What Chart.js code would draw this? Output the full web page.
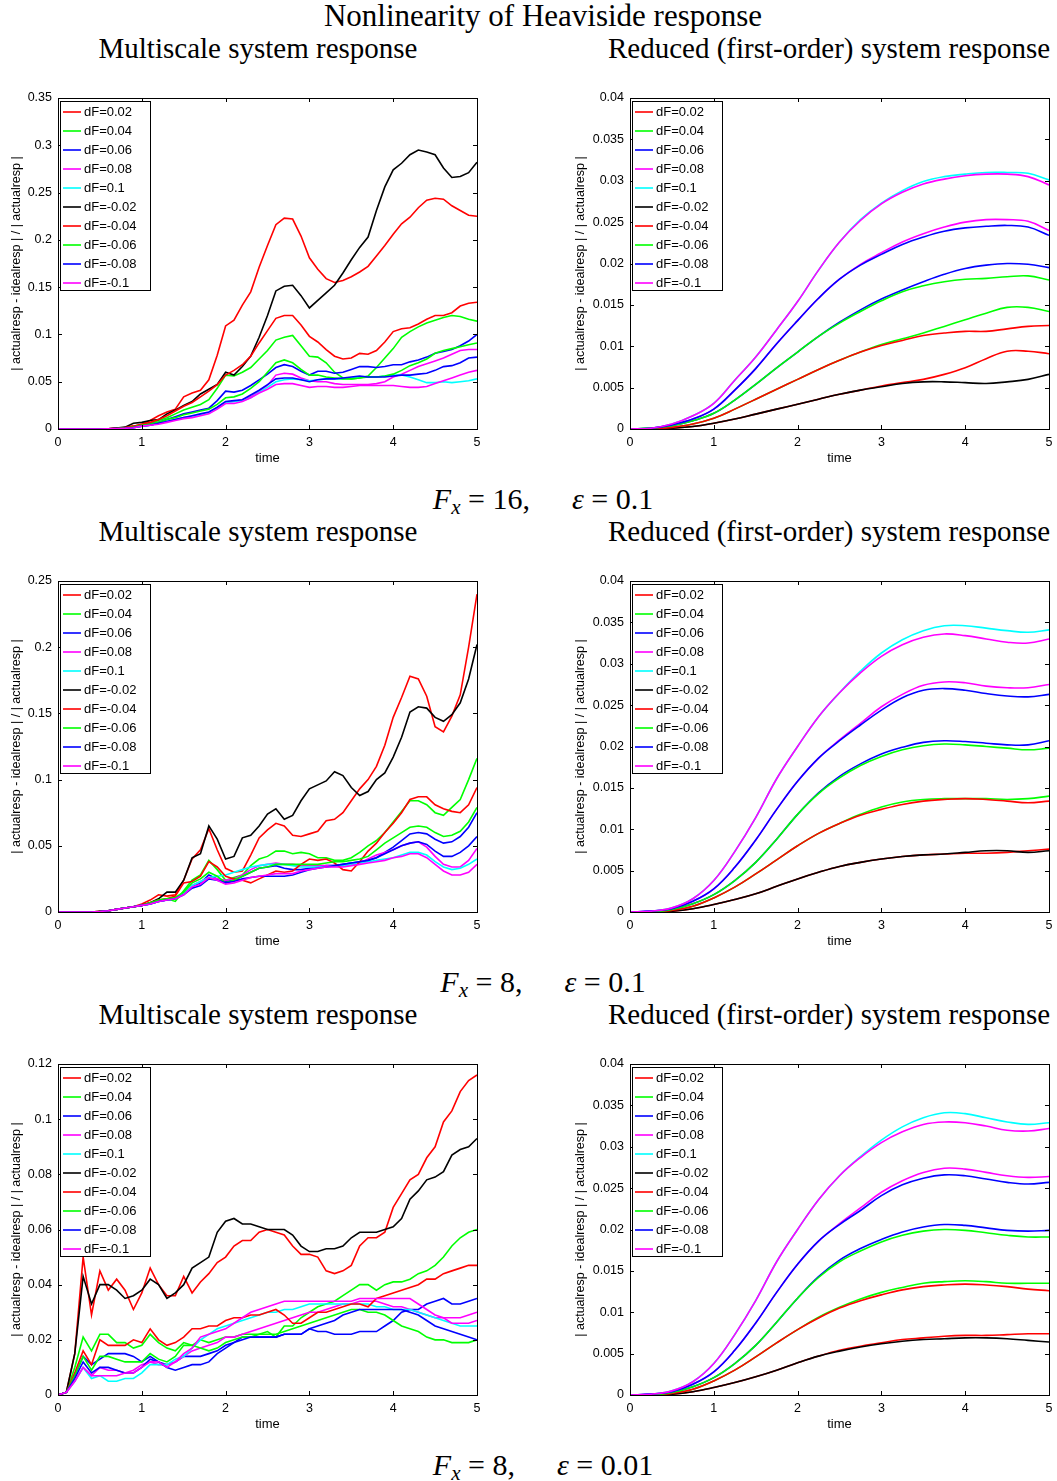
<!DOCTYPE html>
<html>
<head>
<meta charset="utf-8">
<script src="https://cdn.jsdelivr.net/npm/chart.js@4.4.0/dist/chart.umd.min.js"></script>
<style>
  html, body { margin: 0; padding: 0; background: #fff; }
  body { position: relative; width: 1057px; height: 1481px; overflow: hidden; }
  .txt { position: absolute; font-family: "Liberation Serif", "Times New Roman", serif; color: #000;
         white-space: nowrap; line-height: 1; transform: translateX(-50%); }
  .txt sub { font-size: 70%; vertical-align: -0.25em; font-style: italic; }
  .gap { display: inline-block; width: 42px; }
  canvas { position: absolute; }
</style>
</head>
<body>

<div class="txt" style="left:543px; top:0px; font-size:31px;">Nonlinearity of Heaviside response</div>

<div class="txt" style="left:258px; top:34px; font-size:29px;">Multiscale system response</div>
<div class="txt" style="left:829px; top:34px; font-size:29px;">Reduced (first-order) system response</div>
<canvas id="c1" width="490" height="385" style="left:0px; top:90px;"></canvas>
<canvas id="c2" width="487" height="385" style="left:570px; top:90px;"></canvas>
<div class="txt" style="left:543px; top:484px; font-size:30px;"><i>F</i><sub>x</sub> = 16,<span class="gap"></span><i>ε</i> = 0.1</div>

<div class="txt" style="left:258px; top:517px; font-size:29px;">Multiscale system response</div>
<div class="txt" style="left:829px; top:517px; font-size:29px;">Reduced (first-order) system response</div>
<canvas id="c3" width="490" height="385" style="left:0px; top:573px;"></canvas>
<canvas id="c4" width="487" height="385" style="left:570px; top:573px;"></canvas>
<div class="txt" style="left:543px; top:967px; font-size:30px;"><i>F</i><sub>x</sub> = 8,<span class="gap"></span><i>ε</i> = 0.1</div>

<div class="txt" style="left:258px; top:1000px; font-size:29px;">Multiscale system response</div>
<div class="txt" style="left:829px; top:1000px; font-size:29px;">Reduced (first-order) system response</div>
<canvas id="c5" width="490" height="385" style="left:0px; top:1056px;"></canvas>
<canvas id="c6" width="487" height="385" style="left:570px; top:1056px;"></canvas>
<div class="txt" style="left:543px; top:1450px; font-size:30px;"><i>F</i><sub>x</sub> = 8,<span class="gap"></span><i>ε</i> = 0.01</div>

<script>
// time samples
const T10 = [0,0.1,0.2,0.3,0.4,0.5,0.6,0.7,0.8,0.9,1,1.1,1.2,1.3,1.4,1.5,1.6,1.7,1.8,1.9,
  2,2.1,2.2,2.3,2.4,2.5,2.6,2.7,2.8,2.9,3,3.1,3.2,3.3,3.4,3.5,3.6,3.7,3.8,3.9,
  4,4.1,4.2,4.3,4.4,4.5,4.6,4.7,4.8,4.9,5];
const T25 = [0,0.25,0.5,0.75,1,1.25,1.5,1.75,2,2.25,2.5,2.75,3,3.25,3.5,3.75,4,4.25,4.5,4.75,5];

const LABELS = ['dF=0.02','dF=0.04','dF=0.06','dF=0.08','dF=0.1','dF=-0.02','dF=-0.04','dF=-0.06','dF=-0.08','dF=-0.1'];
const COLORS = ['#ff0000','#00ff00','#0000ff','#ff00ff','#00ffff','#000000','#ff0000','#00ff00','#0000ff','#ff00ff'];

// ---- Fx=16, eps=0.1, multiscale
const A_p02 = [0,0,0,0,0,0,0.0003,0.001,0.0015,0.003, 0.005,0.009,0.014,0.018,0.021,0.034,0.038,0.041,0.052,0.078,
  0.109,0.115,0.131,0.145,0.171,0.194,0.216,0.223,0.222,0.204, 0.181,0.169,0.159,0.155,0.157,0.161,0.166,0.172,0.183,0.194,
  0.206,0.217,0.224,0.234,0.242,0.244,0.243,0.236,0.231,0.226, 0.225];
const A_p04 = [0,0,0,0,0,0,0.0002,0.0006,0.0012,0.0025, 0.004,0.006,0.009,0.012,0.016,0.02,0.023,0.026,0.031,0.043,
  0.057,0.056,0.06,0.065,0.074,0.083,0.094,0.097,0.099,0.088, 0.077,0.076,0.07,0.06,0.054,0.053,0.054,0.056,0.065,0.075,
  0.085,0.097,0.103,0.108,0.112,0.115,0.118,0.12,0.119,0.116, 0.114];
const A_p06 = [0,0,0,0,0,0,0.0002,0.0005,0.001,0.002, 0.004,0.005,0.007,0.01,0.013,0.016,0.018,0.02,0.022,0.03,
  0.04,0.039,0.041,0.046,0.052,0.058,0.065,0.068,0.066,0.061, 0.057,0.061,0.061,0.059,0.06,0.063,0.066,0.066,0.065,0.066,
  0.068,0.068,0.071,0.073,0.076,0.08,0.082,0.084,0.088,0.093, 0.1];
const A_p08 = [0,0,0,0,0,0,0.0001,0.0004,0.0008,0.0015, 0.003,0.004,0.006,0.008,0.01,0.012,0.013,0.015,0.017,0.022,
  0.028,0.029,0.031,0.034,0.04,0.046,0.057,0.059,0.058,0.054, 0.051,0.05,0.05,0.048,0.047,0.047,0.047,0.047,0.048,0.05,
  0.055,0.058,0.062,0.066,0.069,0.072,0.075,0.079,0.083,0.084, 0.084];
const A_p10 = [0,0,0,0,0,0,0.0001,0.0004,0.0008,0.0015, 0.003,0.004,0.006,0.008,0.01,0.012,0.013,0.015,0.017,0.022,
  0.028,0.029,0.03,0.033,0.039,0.044,0.05,0.052,0.053,0.052, 0.051,0.052,0.053,0.053,0.053,0.054,0.055,0.055,0.055,0.056,
  0.057,0.057,0.055,0.052,0.049,0.049,0.05,0.049,0.05,0.051, 0.053];
const A_m02 = [0,0,0,0,0,0,0.0003,0.001,0.002,0.006, 0.007,0.009,0.01,0.016,0.02,0.025,0.029,0.037,0.042,0.047,
  0.06,0.057,0.066,0.077,0.097,0.12,0.146,0.151,0.152,0.141, 0.128,0.136,0.144,0.152,0.165,0.179,0.192,0.203,0.231,0.256,
  0.274,0.281,0.29,0.295,0.293,0.29,0.276,0.266,0.267,0.271, 0.282];
const A_m04 = [0,0,0,0,0,0,0.0003,0.0008,0.0015,0.003, 0.005,0.007,0.01,0.014,0.019,0.024,0.028,0.034,0.04,0.047,
  0.057,0.062,0.068,0.077,0.091,0.104,0.117,0.12,0.12,0.11, 0.098,0.092,0.084,0.077,0.074,0.075,0.08,0.079,0.083,0.092,
  0.103,0.106,0.107,0.111,0.116,0.12,0.12,0.123,0.13,0.133, 0.134];
const A_m06 = [0,0,0,0,0,0,0.0002,0.0005,0.001,0.002, 0.004,0.005,0.007,0.01,0.012,0.015,0.017,0.019,0.021,0.026,
  0.033,0.034,0.037,0.043,0.05,0.06,0.07,0.073,0.07,0.063, 0.057,0.057,0.055,0.054,0.053,0.053,0.054,0.055,0.055,0.056,
  0.058,0.062,0.067,0.07,0.074,0.08,0.083,0.085,0.087,0.089, 0.091];
const A_m08 = [0,0,0,0,0,0,0.0001,0.0004,0.0008,0.0015, 0.003,0.004,0.006,0.008,0.01,0.012,0.014,0.016,0.018,0.023,
  0.029,0.03,0.031,0.036,0.041,0.047,0.053,0.054,0.054,0.052, 0.05,0.052,0.053,0.053,0.054,0.055,0.056,0.055,0.055,0.055,
  0.056,0.057,0.057,0.058,0.059,0.062,0.066,0.067,0.07,0.075, 0.076];
const A_m10 = [0,0,0,0,0,0,0.0001,0.0003,0.0007,0.0013, 0.003,0.004,0.005,0.007,0.009,0.011,0.012,0.014,0.016,0.021,
  0.027,0.027,0.029,0.033,0.038,0.042,0.047,0.048,0.048,0.046, 0.044,0.045,0.045,0.044,0.044,0.045,0.046,0.046,0.046,0.046,
  0.046,0.045,0.044,0.044,0.045,0.048,0.051,0.054,0.057,0.06, 0.062];

// ---- Fx=8, eps=0.1, multiscale
const B_p02 = [0,0,0,0,0,0.0005,0.001,0.002,0.003,0.004, 0.006,0.009,0.013,0.012,0.013,0.024,0.04,0.047,0.063,0.047,
  0.033,0.03,0.031,0.043,0.056,0.062,0.067,0.065,0.058,0.057, 0.059,0.061,0.069,0.07,0.075,0.084,0.093,0.1,0.11,0.126,
  0.147,0.162,0.178,0.176,0.163,0.14,0.136,0.148,0.164,0.2, 0.24];
const B_p04 = [0,0,0,0,0,0.0004,0.001,0.002,0.003,0.004, 0.005,0.007,0.009,0.01,0.008,0.016,0.024,0.028,0.039,0.032,
  0.024,0.026,0.028,0.035,0.04,0.042,0.046,0.046,0.044,0.045, 0.044,0.041,0.041,0.039,0.039,0.041,0.045,0.05,0.054,0.06,
  0.068,0.076,0.084,0.084,0.081,0.075,0.073,0.079,0.085,0.1, 0.116];
const B_p06 = [0,0,0,0,0,0.0004,0.001,0.002,0.003,0.004, 0.005,0.006,0.008,0.009,0.01,0.014,0.019,0.022,0.028,0.025,
  0.023,0.024,0.027,0.03,0.033,0.034,0.035,0.033,0.032,0.032, 0.033,0.034,0.035,0.035,0.036,0.037,0.038,0.039,0.041,0.045,
  0.049,0.054,0.059,0.06,0.059,0.055,0.052,0.053,0.057,0.064, 0.075];
const B_p08 = [0,0,0,0,0,0.0004,0.001,0.002,0.003,0.004, 0.005,0.006,0.008,0.009,0.01,0.014,0.02,0.023,0.026,0.025,
  0.024,0.025,0.028,0.032,0.035,0.036,0.037,0.036,0.036,0.035, 0.035,0.035,0.035,0.035,0.035,0.036,0.037,0.04,0.043,0.045,
  0.047,0.05,0.052,0.053,0.049,0.042,0.036,0.034,0.034,0.039, 0.048];
const B_p10 = [0,0,0,0,0,0.0004,0.001,0.002,0.003,0.004, 0.005,0.006,0.008,0.009,0.01,0.014,0.02,0.023,0.026,0.027,
  0.028,0.03,0.032,0.034,0.035,0.036,0.036,0.036,0.035,0.034, 0.034,0.034,0.034,0.035,0.035,0.036,0.037,0.038,0.039,0.04,
  0.041,0.043,0.045,0.045,0.043,0.038,0.034,0.032,0.033,0.036, 0.04];
const B_m02 = [0,0,0,0,0,0.0005,0.001,0.002,0.003,0.004, 0.005,0.007,0.01,0.015,0.015,0.024,0.041,0.044,0.065,0.055,
  0.04,0.042,0.056,0.058,0.065,0.074,0.078,0.07,0.073,0.084, 0.093,0.096,0.099,0.106,0.103,0.094,0.088,0.091,0.1,0.105,
  0.117,0.132,0.151,0.155,0.154,0.147,0.144,0.149,0.158,0.176, 0.202];
const B_m04 = [0,0,0,0,0,0.0004,0.001,0.002,0.003,0.004, 0.005,0.007,0.009,0.01,0.012,0.022,0.023,0.027,0.038,0.034,
  0.027,0.025,0.024,0.022,0.025,0.028,0.031,0.03,0.031,0.036, 0.04,0.039,0.04,0.037,0.032,0.031,0.038,0.046,0.052,0.06,
  0.067,0.075,0.085,0.087,0.087,0.081,0.078,0.076,0.075,0.081, 0.094];
const B_m06 = [0,0,0,0,0,0.0004,0.001,0.002,0.003,0.004, 0.005,0.007,0.009,0.01,0.011,0.015,0.022,0.025,0.03,0.027,
  0.022,0.024,0.027,0.03,0.033,0.034,0.036,0.036,0.036,0.036, 0.036,0.036,0.037,0.038,0.038,0.039,0.04,0.042,0.047,0.052,
  0.056,0.06,0.064,0.065,0.064,0.06,0.057,0.058,0.061,0.068, 0.079];
const B_m08 = [0,0,0,0,0,0.0004,0.001,0.002,0.003,0.004, 0.005,0.006,0.008,0.009,0.01,0.013,0.018,0.02,0.025,0.024,
  0.022,0.023,0.025,0.026,0.027,0.027,0.027,0.027,0.028,0.03, 0.032,0.033,0.034,0.035,0.036,0.037,0.038,0.039,0.041,0.044,
  0.047,0.05,0.052,0.053,0.051,0.046,0.042,0.042,0.045,0.05, 0.057];
const B_m10 = [0,0,0,0,0,0.0004,0.001,0.002,0.003,0.004, 0.005,0.006,0.008,0.009,0.01,0.013,0.019,0.021,0.026,0.024,
  0.021,0.022,0.024,0.026,0.027,0.028,0.029,0.029,0.029,0.031, 0.032,0.033,0.034,0.034,0.034,0.035,0.036,0.037,0.038,0.039,
  0.041,0.042,0.044,0.044,0.041,0.036,0.031,0.028,0.028,0.03, 0.036];

// ---- Fx=8, eps=0.01, multiscale
const C_p02 = [0,0.001,0.015,0.05,0.029,0.045,0.038,0.042,0.038,0.031, 0.037,0.046,0.04,0.036,0.036,0.043,0.037,0.041,0.044,0.048,
  0.05,0.054,0.056,0.056,0.059,0.06,0.059,0.058,0.054,0.051, 0.051,0.05,0.045,0.044,0.045,0.047,0.054,0.057,0.057,0.059,
  0.068,0.073,0.078,0.08,0.086,0.09,0.099,0.103,0.11,0.114, 0.116];
const C_p04 = [0,0.001,0.01,0.021,0.016,0.022,0.022,0.019,0.019,0.017, 0.018,0.022,0.019,0.017,0.016,0.019,0.018,0.02,0.019,0.02,
  0.021,0.021,0.022,0.022,0.022,0.023,0.021,0.025,0.025,0.028, 0.03,0.032,0.033,0.034,0.036,0.038,0.04,0.04,0.038,0.04,
  0.041,0.041,0.042,0.044,0.045,0.047,0.05,0.054,0.057,0.059, 0.06];
const C_p06 = [0,0.001,0.007,0.014,0.011,0.013,0.015,0.015,0.015,0.014, 0.012,0.014,0.012,0.011,0.012,0.014,0.014,0.014,0.015,0.016,
  0.018,0.019,0.021,0.021,0.021,0.021,0.021,0.022,0.022,0.022, 0.024,0.023,0.023,0.022,0.022,0.022,0.023,0.023,0.023,0.025,
  0.027,0.03,0.031,0.031,0.033,0.034,0.035,0.033,0.033,0.034, 0.035];
const C_p08 = [0,0.001,0.005,0.01,0.007,0.01,0.009,0.009,0.008,0.009, 0.011,0.012,0.011,0.011,0.012,0.014,0.016,0.017,0.018,0.019,
  0.021,0.021,0.022,0.023,0.024,0.025,0.026,0.027,0.028,0.029, 0.03,0.03,0.031,0.032,0.033,0.033,0.034,0.034,0.034,0.033,
  0.032,0.032,0.031,0.03,0.029,0.028,0.028,0.028,0.028,0.029, 0.03];
const C_p10 = [0,0.001,0.005,0.01,0.006,0.007,0.005,0.005,0.006,0.006, 0.008,0.011,0.011,0.011,0.013,0.014,0.017,0.02,0.022,0.024,
  0.025,0.026,0.027,0.028,0.029,0.03,0.03,0.031,0.031,0.032, 0.033,0.033,0.033,0.033,0.033,0.033,0.033,0.033,0.032,0.032,
  0.031,0.031,0.031,0.03,0.029,0.028,0.027,0.026,0.025,0.025, 0.025];
const C_m02 = [0,0.001,0.015,0.043,0.033,0.04,0.04,0.038,0.035,0.036, 0.038,0.042,0.04,0.035,0.037,0.04,0.046,0.048,0.05,0.059,
  0.063,0.064,0.062,0.062,0.061,0.06,0.06,0.06,0.058,0.054, 0.052,0.052,0.053,0.053,0.054,0.057,0.059,0.059,0.059,0.06,
  0.061,0.064,0.071,0.074,0.078,0.079,0.081,0.087,0.089,0.09, 0.093];
const C_m04 = [0,0.001,0.008,0.016,0.011,0.02,0.018,0.018,0.018,0.02, 0.019,0.024,0.02,0.018,0.019,0.021,0.024,0.024,0.025,0.025,
  0.027,0.028,0.028,0.029,0.029,0.03,0.031,0.029,0.026,0.026, 0.028,0.03,0.03,0.031,0.032,0.033,0.033,0.032,0.035,0.036,
  0.037,0.038,0.039,0.04,0.042,0.042,0.044,0.045,0.046,0.047, 0.047];
const C_m06 = [0,0.001,0.007,0.014,0.009,0.014,0.014,0.013,0.012,0.012, 0.012,0.015,0.013,0.012,0.014,0.018,0.018,0.017,0.016,0.017,
  0.019,0.02,0.021,0.021,0.022,0.022,0.022,0.023,0.024,0.025, 0.026,0.027,0.028,0.029,0.03,0.031,0.031,0.03,0.03,0.029,
  0.027,0.025,0.024,0.023,0.021,0.02,0.02,0.019,0.019,0.019, 0.02];
const C_m08 = [0,0.001,0.006,0.012,0.008,0.01,0.01,0.009,0.008,0.008, 0.01,0.013,0.012,0.01,0.009,0.01,0.011,0.011,0.012,0.015,
  0.017,0.019,0.02,0.021,0.021,0.021,0.021,0.022,0.022,0.022, 0.024,0.025,0.026,0.027,0.029,0.03,0.031,0.031,0.031,0.031,
  0.031,0.031,0.03,0.029,0.027,0.025,0.024,0.023,0.022,0.021, 0.02];
const C_m10 = [0,0.001,0.005,0.01,0.007,0.007,0.007,0.007,0.008,0.008, 0.01,0.012,0.012,0.01,0.012,0.015,0.017,0.021,0.022,0.023,
  0.024,0.026,0.028,0.03,0.031,0.032,0.033,0.034,0.034,0.034, 0.034,0.034,0.034,0.034,0.034,0.034,0.035,0.035,0.035,0.035,
  0.035,0.035,0.035,0.033,0.031,0.029,0.028,0.026,0.026,0.026, 0.027];

// ---- Fx=16, eps=0.1, reduced
const D_p02 = [0,0,0.0001,0.0003,0.0007,0.0012,0.0018,0.0024,0.003,0.0036,0.0042,0.0047,0.0052,0.0056,0.006,0.0066,0.0074,0.0085,0.0094,0.0094,0.0091];
const D_p04 = [0,0,0.0002,0.0006,0.0013,0.0024,0.0036,0.0048,0.006,0.0072,0.0083,0.0093,0.0102,0.0109,0.0116,0.0124,0.0132,0.014,0.0147,0.0147,0.0142];
const D_p06 = [0,0.0001,0.0004,0.001,0.0019,0.0035,0.0054,0.0074,0.0093,0.0112,0.0129,0.0144,0.0157,0.0168,0.0178,0.0187,0.0194,0.0198,0.02,0.0199,0.0195];
const D_p08 = [0,0.0001,0.0005,0.0012,0.0024,0.0047,0.0073,0.0103,0.0131,0.0158,0.0181,0.0199,0.0213,0.0226,0.0236,0.0244,0.025,0.0253,0.0253,0.0251,0.024];
const D_p10 = [0,0.0001,0.0006,0.0016,0.0031,0.0059,0.0087,0.012,0.0154,0.0192,0.0226,0.0253,0.0273,0.0288,0.0299,0.0305,0.0308,0.031,0.031,0.0309,0.0301];
const D_m02 = [0,0,0.0001,0.0003,0.0007,0.0012,0.0018,0.0024,0.003,0.0036,0.0042,0.0047,0.0051,0.0055,0.0057,0.0057,0.0056,0.0055,0.0057,0.006,0.0066];
const D_m04 = [0,0,0.0002,0.0006,0.0013,0.0024,0.0036,0.0048,0.006,0.0072,0.0083,0.0093,0.0101,0.0107,0.0113,0.0116,0.0118,0.0118,0.0121,0.0124,0.0125];
const D_m06 = [0,0.0001,0.0004,0.001,0.0019,0.0035,0.0054,0.0074,0.0093,0.0112,0.0128,0.0142,0.0155,0.0166,0.0173,0.0178,0.0181,0.0182,0.0184,0.0185,0.018];
const D_m08 = [0,0.0001,0.0005,0.0012,0.0024,0.0047,0.0073,0.0103,0.0131,0.0158,0.0181,0.0198,0.0211,0.0223,0.0232,0.0239,0.0243,0.0245,0.0246,0.0244,0.0234];
const D_m10 = [0,0.0001,0.0006,0.0016,0.0031,0.0059,0.0087,0.012,0.0154,0.0192,0.0226,0.0252,0.0272,0.0286,0.0296,0.0302,0.0306,0.0308,0.0308,0.0305,0.0295];

// ---- Fx=8, eps=0.1, reduced
const E_p02 = [0,0,0.0001,0.0004,0.0009,0.0015,0.0022,0.0031,0.004,0.0048,0.0055,0.006,0.0064,0.0067,0.0069,0.007,0.0071,0.0071,0.0072,0.0074,0.0076];
const E_p04 = [0,0,0.0002,0.0007,0.0017,0.003,0.0046,0.0063,0.008,0.0095,0.0107,0.0118,0.0127,0.0133,0.0136,0.0137,0.0137,0.0137,0.0136,0.0137,0.014];
const E_p06 = [0,0,0.0003,0.001,0.0021,0.0038,0.006,0.0088,0.0118,0.0144,0.0164,0.0179,0.0191,0.0199,0.0205,0.0207,0.0206,0.0204,0.0202,0.0202,0.0207];
const E_p08 = [0,0.0001,0.0004,0.0013,0.0028,0.0054,0.0087,0.0124,0.0158,0.0186,0.0208,0.0228,0.0248,0.0263,0.0274,0.0278,0.0277,0.0273,0.0271,0.0271,0.0275];
const E_p10 = [0,0.0001,0.0005,0.0016,0.0038,0.0073,0.0114,0.0161,0.02,0.0236,0.0265,0.0291,0.0313,0.0329,0.034,0.0346,0.0346,0.0343,0.034,0.0338,0.0341];
const E_m02 = [0,0,0.0001,0.0004,0.0009,0.0015,0.0022,0.0031,0.004,0.0048,0.0055,0.006,0.0064,0.0067,0.0069,0.007,0.0072,0.0074,0.0074,0.0072,0.0074];
const E_m04 = [0,0,0.0002,0.0007,0.0017,0.003,0.0046,0.0063,0.008,0.0095,0.0107,0.0117,0.0124,0.013,0.0134,0.0136,0.0137,0.0136,0.0134,0.0132,0.0134];
const E_m06 = [0,0,0.0003,0.001,0.0021,0.0038,0.006,0.0088,0.0118,0.0143,0.0162,0.0177,0.0188,0.0196,0.0201,0.0203,0.0202,0.02,0.0198,0.0196,0.0198];
const E_m08 = [0,0.0001,0.0004,0.0013,0.0028,0.0054,0.0087,0.0124,0.0158,0.0186,0.0207,0.0226,0.0244,0.0259,0.0268,0.027,0.0268,0.0264,0.0261,0.026,0.0263];
const E_m10 = [0,0.0001,0.0005,0.0016,0.0038,0.0073,0.0114,0.0161,0.02,0.0236,0.0265,0.0289,0.0309,0.0323,0.0332,0.0336,0.0334,0.033,0.0326,0.0325,0.033];

// ---- Fx=8, eps=0.01, reduced
const F_p02 = [0,0,0.0001,0.0004,0.0009,0.0015,0.0022,0.003,0.0039,0.0047,0.0054,0.0059,0.0063,0.0067,0.0069,0.0071,0.0072,0.0072,0.0073,0.0074,0.0074];
const F_p04 = [0,0,0.0002,0.0007,0.0017,0.003,0.0046,0.0063,0.0079,0.0094,0.0106,0.0116,0.0124,0.013,0.0135,0.0137,0.0138,0.0137,0.0135,0.0135,0.0135];
const F_p06 = [0,0,0.0003,0.001,0.0021,0.0038,0.006,0.0088,0.0117,0.0143,0.0163,0.0177,0.0188,0.0197,0.0203,0.0206,0.0205,0.0202,0.0199,0.0198,0.0199];
const F_p08 = [0,0.0001,0.0004,0.0013,0.0028,0.0054,0.0087,0.0124,0.0158,0.0186,0.0207,0.0226,0.0245,0.0259,0.0269,0.0274,0.0273,0.0269,0.0265,0.0263,0.0264];
const F_p10 = [0,0.0001,0.0005,0.0016,0.0038,0.0073,0.0114,0.0161,0.02,0.0236,0.0265,0.0288,0.0308,0.0324,0.0335,0.0341,0.034,0.0335,0.033,0.0327,0.0329];
const F_m02 = [0,0,0.0001,0.0004,0.0009,0.0015,0.0022,0.003,0.0039,0.0047,0.0053,0.0058,0.0062,0.0065,0.0067,0.0068,0.0069,0.0069,0.0068,0.0066,0.0064];
const F_m04 = [0,0,0.0002,0.0007,0.0017,0.003,0.0046,0.0063,0.0079,0.0093,0.0105,0.0114,0.0121,0.0127,0.0131,0.0133,0.0134,0.0133,0.0131,0.0128,0.0126];
const F_m06 = [0,0,0.0003,0.001,0.0021,0.0038,0.006,0.0088,0.0117,0.0142,0.0161,0.0174,0.0185,0.0193,0.0198,0.02,0.0199,0.0196,0.0193,0.0191,0.0191];
const F_m08 = [0,0.0001,0.0004,0.0013,0.0028,0.0054,0.0087,0.0124,0.0158,0.0186,0.0206,0.0223,0.0241,0.0254,0.0262,0.0266,0.0265,0.0261,0.0257,0.0255,0.0257];
const F_m10 = [0,0.0001,0.0005,0.0016,0.0038,0.0073,0.0114,0.0161,0.02,0.0236,0.0265,0.0287,0.0305,0.0318,0.0327,0.033,0.0329,0.0325,0.032,0.0319,0.0322];

Chart.defaults.font.family = '"Liberation Sans", Arial, Helvetica, sans-serif';
Chart.defaults.color = '#000';

// MATLAB-like box, inward ticks and legend inside the axes
const axesBox = {
  id: 'axesBox',
  afterDatasetsDraw(chart) {
    const {ctx, chartArea: a, scales: {x, y}} = chart;
    ctx.save();
    ctx.strokeStyle = '#000';
    ctx.lineWidth = 1;
    ctx.beginPath();
    x.ticks.forEach(t => {
      const px = Math.round(x.getPixelForValue(t.value)) + 0.5;
      ctx.moveTo(px, a.bottom); ctx.lineTo(px, a.bottom - 4);
      ctx.moveTo(px, a.top); ctx.lineTo(px, a.top + 4);
    });
    y.ticks.forEach(t => {
      const py = Math.round(y.getPixelForValue(t.value)) + 0.5;
      ctx.moveTo(a.left, py); ctx.lineTo(a.left + 4, py);
      ctx.moveTo(a.right, py); ctx.lineTo(a.right - 4, py);
    });
    ctx.stroke();
    ctx.strokeRect(Math.round(a.left) + 0.5, Math.round(a.top) + 0.5, Math.round(a.width), Math.round(a.height));

    // legend
    const bx = Math.round(a.left) + 2, by = Math.round(a.top) + 3, bw = 90, bh = 189;
    ctx.fillStyle = '#fff';
    ctx.fillRect(bx, by, bw, bh);
    ctx.strokeRect(bx + 0.5, by + 0.5, bw, bh);
    ctx.font = '13px "Liberation Sans", Arial, sans-serif';
    ctx.textBaseline = 'middle';
    ctx.textAlign = 'left';
    chart.data.datasets.forEach((d, i) => {
      const yy = by + 11 + i * 19;
      ctx.strokeStyle = d.borderColor;
      ctx.lineWidth = 1.6;
      ctx.beginPath(); ctx.moveTo(bx + 3, yy); ctx.lineTo(bx + 21, yy); ctx.stroke();
      ctx.fillStyle = '#000';
      ctx.fillText(d.label, bx + 24, yy);
    });
    ctx.restore();
  }
};

function makePanel(id, times, series, yMax, yStep, smooth, axisW, padRight, titlePad) {
  new Chart(document.getElementById(id), {
    type: 'line',
    data: {
      datasets: series.map((s, i) => ({
        label: LABELS[i],
        data: s.map((v, k) => ({x: times[k], y: v})),
        borderColor: COLORS[i],
        borderWidth: 1.6,
        pointRadius: 0,
        fill: false,
        order: series.length - 1 - i,
        tension: smooth ? 0.4 : 0
      }))
    },
    options: {
      responsive: false,
      animation: false,
      events: [],
      layout: {padding: {top: 8, right: padRight, left: 0, bottom: 0}},
      plugins: {legend: {display: false}, tooltip: {enabled: false}},
      scales: {
        x: {
          type: 'linear', min: 0, max: 5,
          afterFit: s => { s.height = 46; s.paddingLeft = 0; s.paddingRight = 0; },
          grid: {display: false, drawTicks: false}, border: {display: false},
          ticks: {stepSize: 1, padding: 6, font: {size: 12.5}, maxRotation: 0},
          title: {display: true, text: 'time', font: {size: 13}, padding: {top: 0, bottom: 9}}
        },
        y: {
          min: 0, max: yMax,
          afterFit: s => { s.width = axisW; s.paddingTop = 0; s.paddingBottom = 0; },
          grid: {display: false, drawTicks: false}, border: {display: false},
          ticks: {stepSize: yStep, padding: 6, font: {size: 12.5}, callback: v => String(+v.toFixed(4))},
          title: {display: true, text: '| actualresp - idealresp | / | actualresp |', font: {size: 12.5}, padding: {top: titlePad, bottom: 0}}
        }
      }
    },
    plugins: [axesBox]
  });
}

makePanel('c1', T10, [A_p02,A_p04,A_p06,A_p08,A_p10,A_m02,A_m04,A_m06,A_m08,A_m10], 0.35, 0.05, false, 58, 13, 9.5);
makePanel('c2', T25, [D_p02,D_p04,D_p06,D_p08,D_p10,D_m02,D_m04,D_m06,D_m08,D_m10], 0.04, 0.005, true, 60, 8, 3.5);
makePanel('c3', T10, [B_p02,B_p04,B_p06,B_p08,B_p10,B_m02,B_m04,B_m06,B_m08,B_m10], 0.25, 0.05, false, 58, 13, 9.5);
makePanel('c4', T25, [E_p02,E_p04,E_p06,E_p08,E_p10,E_m02,E_m04,E_m06,E_m08,E_m10], 0.04, 0.005, true, 60, 8, 3.5);
makePanel('c5', T10, [C_p02,C_p04,C_p06,C_p08,C_p10,C_m02,C_m04,C_m06,C_m08,C_m10], 0.12, 0.02, false, 58, 13, 9.5);
makePanel('c6', T25, [F_p02,F_p04,F_p06,F_p08,F_p10,F_m02,F_m04,F_m06,F_m08,F_m10], 0.04, 0.005, true, 60, 8, 3.5);
</script>
</body>
</html>
